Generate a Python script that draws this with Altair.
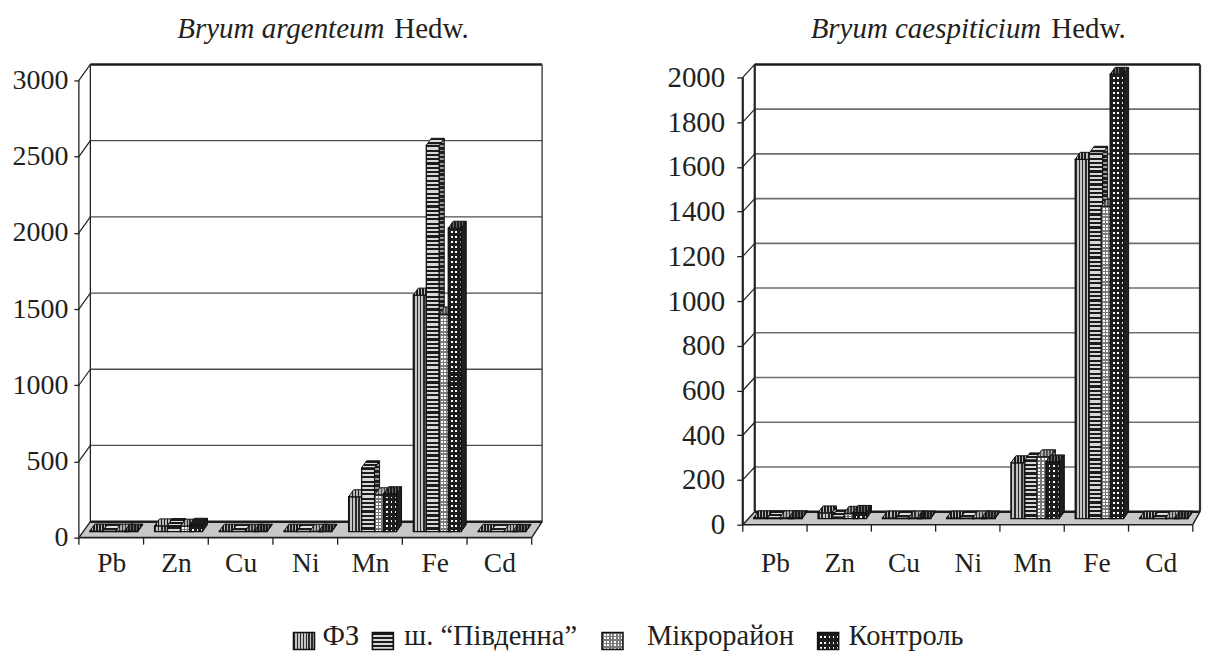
import altair as alt

CATS = ["Pb", "Zn", "Cu", "Ni", "Mn", "Fe", "Cd"]
SERIES = ["ФЗ", "ш. “Південна”", "Мікрорайон", "Контроль"]
A_FZ = [4, 38, 3, 3, 229, 1552, 2]
A_PIV = [4, 40, 3, 3, 419, 2535, 2]
A_MIK = [4, 36, 3, 3, 242, 1428, 2]
A_KON = [4, 42, 3, 3, 249, 1991, 2]
B_FZ = [4, 26, 3, 3, 250, 1607, 2]
B_PIV = [4, 8, 3, 3, 263, 1634, 2]
B_MIK = [4, 24, 3, 3, 277, 1397, 2]
B_KON = [4, 28, 3, 3, 254, 1987, 2]
A_TICKS = [0, 500, 1000, 1500, 2000, 2500, 3000]
B_TICKS = [0, 200, 400, 600, 800, 1000, 1200, 1400, 1600, 1800, 2000]

FONT = "Liberation Serif"
INK = "#231f20"
CLEAR = "rgba(0,0,0,0)"


def stripes(length, period, duty, dark, light, vertical):
    n = max(1, round(length / period))
    stops = []
    for i in range(n):
        a, b, c = i / n, (i + duty) / n, (i + 1) / n
        stops += [(dark, a), (dark, b), (light, b), (light, c)]
    return alt.LinearGradient(
        gradient="linear",
        stops=[alt.GradientStop(color=k, offset=o) for k, o in stops],
        x1=0, y1=0,
        x2=1 if vertical else 0,
        y2=0 if vertical else 1,
    )


def front_layers(i, w, h):
    """Fill list, bottom to top, for the front face of series i."""
    if i == 0:
        return ["#ffffff", stripes(w, 3.0, 0.45, "#2a2a2a", "#c4c4c4", True)]
    if i == 1:
        return ["#ffffff", stripes(h, 4.3, 0.5, "#1c1c1c", "#d8d8d8", False)]
    if i == 2:
        return ["#ffffff",
                stripes(h, 3.4, 0.45, "#7a7a7a", CLEAR, False),
                stripes(w, 3.4, 0.45, "#7a7a7a", CLEAR, True)]
    return ["#ffffff",
            stripes(h, 5.0, 0.62, "#1c1c1c", CLEAR, False),
            stripes(w, 4.4, 0.62, "#1c1c1c", CLEAR, True)]


def top_fill(i, w, flat):
    if i == 0:
        return stripes(w + 5, 3.0, 0.65 if flat else 0.5, "#1c1c1c", "#b8b8b8", True)
    if i == 1:
        return stripes(7, 3.5, 0.6, "#1c1c1c", "#dddddd", False)
    if i == 2:
        return stripes(w + 5, 3.0, 0.5, "#333333" if flat else "#555555", "#aaaaaa", True)
    return stripes(w + 5, 3.0, 0.7, "#1c1c1c", "#666666", True)


def side_fill(i, h):
    if i == 3:
        return "#1f1f1f"
    return stripes(h, 4.3, 0.6, "#1f1f1f", "#9a9a9a", False)


def panel(series, ticks, width, height, step, depth_x, depth_y, unit_px,
          offsets, bar_w, y_font, y_pad, tick_len, grid_color, grid_w, wall_w):
    xd = width / step
    ppu = unit_px
    ymax = ticks[-1] + depth_y / ppu
    xs = alt.Scale(domain=[0, xd], nice=False, zero=False)
    ys = alt.Scale(domain=[0, ymax], nice=False, zero=False)
    DX, DY = depth_x / step, depth_y / ppu
    x_axis = alt.Axis(
        values=[i + 0.5 for i in range(len(CATS))], title=None, grid=False, domain=False,
        ticks=False, labelFont=FONT, labelFontSize=27.5, labelColor=INK, labelAngle=0,
        labelPadding=551 - (65 + height), labelFlush=False,
        labelExpr="[" + ",".join(f"'{c}'" for c in CATS) + "][floor(datum.value)]")
    y_axis = alt.Axis(
        values=ticks, title=None, grid=False, domain=False, tickSize=tick_len, tickColor=INK,
        tickWidth=1.3, labelFont=FONT, labelFontSize=y_font, labelColor=INK, labelPadding=y_pad,
        format="d", minExtent=71, maxExtent=71)
    layers = []

    def enc(*fields):
        e = {}
        if "x" in fields:
            e["x"] = alt.X("x:Q", scale=xs, axis=x_axis)
        if "x2" in fields:
            e["x2"] = alt.X2("x2:Q")
        if "y" in fields:
            e["y"] = alt.Y("y:Q", scale=ys, axis=y_axis)
        if "y2" in fields:
            e["y2"] = alt.Y2("y2:Q")
        return e

    def mk(mark, rows, *fields):
        ch = alt.Chart(alt.Data(values=rows))
        ch.mark = mark
        return ch.encode(**enc(*fields))

    # grid lines on the back wall, with their diagonals on the side wall
    for t in ticks[1:]:
        top = t == ticks[-1]
        layers.append(mk(alt.MarkDef(type="rule", color="#1c1c1c" if top else grid_color,
                                     strokeWidth=2.4 if top else grid_w),
                         [{"x": DX, "x2": xd, "y": t + DY}], "x", "x2", "y"))
        layers.append(mk(alt.MarkDef(type="line", color=INK, strokeWidth=1.2),
                         [{"x": 0, "y": t}, {"x": DX, "y": t + DY}], "x", "y"))
    # walls
    layers.append(mk(alt.MarkDef(type="rule", color="#333333", strokeWidth=wall_w),
                     [{"x": xd, "y": DY, "y2": ymax}], "x", "y", "y2"))
    layers.append(mk(alt.MarkDef(type="rule", color="#222222", strokeWidth=wall_w),
                     [{"x": DX, "y": DY, "y2": ymax}], "x", "y", "y2"))
    layers.append(mk(alt.MarkDef(type="rule", color=INK, strokeWidth=wall_w),
                     [{"x": 0, "y": 0, "y2": ticks[-1]}], "x", "y", "y2"))
    # floor
    layers.append(mk(alt.MarkDef(type="area", orient="horizontal", fill="#c8c8c8"),
                     [{"x": 0, "x2": len(CATS), "y": 0},
                      {"x": DX, "x2": xd, "y": DY}], "x", "x2", "y"))
    layers.append(mk(alt.MarkDef(type="line", color=INK, strokeWidth=1.4),
                     [{"x": 0, "y": 0}, {"x": DX, "y": DY}], "x", "y"))
    layers.append(mk(alt.MarkDef(type="line", color=INK, strokeWidth=1.4),
                     [{"x": len(CATS), "y": 0}, {"x": xd, "y": DY}], "x", "y"))
    layers.append(mk(alt.MarkDef(type="rule", color="#1c1c1c", strokeWidth=2.4),
                     [{"x": DX, "x2": xd, "y": DY}], "x", "x2", "y"))
    layers.append(mk(alt.MarkDef(type="rule", color=INK, strokeWidth=1.6),
                     [{"x": 0, "x2": len(CATS), "y": 0}], "x", "x2", "y"))
    # x ticks below the floor
    for k in range(len(CATS) + 1):
        layers.append(alt.Chart(alt.Data(values=[{"x": k}])).mark_rule(color=INK, strokeWidth=1.3).encode(
            x=alt.X("x:Q", scale=xs, axis=x_axis),
            y=alt.value(height),
            y2=alt.value(height + 7)))

    # bars
    b0 = 6 / ppu
    dbx, dby = 5 / step, 7 / ppu
    for c in range(len(CATS)):
        for s, vals in enumerate(series):
            v = vals[c]
            x0 = c + (11 + offsets[s]) / step
            x1 = x0 + bar_w / step
            y0, y1 = b0, b0 + v
            h_px = v * ppu
            flat = h_px < 3
            fills = ["#333333"] if flat else front_layers(s, bar_w, h_px)
            face = [{"x": x0, "x2": x1, "y": y0, "y2": y1}]
            for f in fills:
                layers.append(mk(alt.MarkDef(type="rect", fill=f), face, "x", "x2", "y", "y2"))
            layers.append(mk(alt.MarkDef(type="rect", fill=CLEAR, stroke="#111111", strokeWidth=1.3),
                             face, "x", "x2", "y", "y2"))
            layers.append(mk(alt.MarkDef(type="area", orient="vertical",
                                         fill=side_fill(s, max(h_px, 8)), stroke="#111111", strokeWidth=1),
                             [{"x": x1, "y": y1, "y2": y0},
                              {"x": x1 + dbx, "y": y1 + dby, "y2": y0 + dby}],
                             "x", "y", "y2"))
            layers.append(mk(alt.MarkDef(type="area", orient="horizontal",
                                         fill=top_fill(s, bar_w, h_px < 12), stroke="#111111", strokeWidth=1),
                             [{"x": x0, "x2": x1, "y": y1},
                              {"x": x0 + dbx, "x2": x1 + dbx, "y": y1 + dby}],
                             "x", "x2", "y"))
    return layers


def title_layers(italic, rest, split_x):
    base = alt.Chart(alt.Data(values=[{"a": 1}]))
    return [
        base.mark_text(text=italic, font=FONT, fontStyle="italic", fontSize=29, color=INK,
                       align="right", baseline="alphabetic").encode(x=alt.value(split_x), y=alt.value(-26)),
        base.mark_text(text=rest, font=FONT, fontSize=29, color=INK,
                       align="left", baseline="alphabetic").encode(x=alt.value(split_x + 10), y=alt.value(-26)),
    ]


A_W, A_H = 464, 474
B_W, B_H = 458, 461
pa = panel([A_FZ, A_PIV, A_MIK, A_KON], A_TICKS, A_W, A_H, 64.8, 11.5, 16, 76.33 / 500,
           [0, 13, 26, 35], 13, 28, 6, 5, "#4d4d4d", 1.3, 1.3)
pb = panel([B_FZ, B_PIV, B_MIK, B_KON], B_TICKS, B_W, B_H, 64.4, 12, 13, 44.8 / 200,
           [0, 14, 26, 35], 13.5, 29, 12, 6, "#6e6e6e", 1.6, 2.2)
A = alt.layer(*pa, *title_layers("Bryum argenteum", "Hedw.", 306)).properties(width=A_W, height=A_H)
B = alt.layer(*pb, *title_layers("Bryum caespiticium", "Hedw.", 299)).properties(width=B_W, height=B_H)

# legend row
LEG_W, LEG_H = 900, 22
SW_X = [215, 294, 524, 740]
TEXT_X = [244, 326, 569, 771]
leg = []
one = alt.Data(values=[{"a": 1}])
for i, name in enumerate(SERIES):
    for f in front_layers(i, 21, 17):
        leg.append(alt.Chart(one).mark_rect(fill=f).encode(
            x=alt.value(SW_X[i]), x2=alt.value(SW_X[i] + 21), y=alt.value(4), y2=alt.value(21)))
    leg.append(alt.Chart(one).mark_rect(fill=CLEAR, stroke="#111111", strokeWidth=1.6).encode(
        x=alt.value(SW_X[i]), x2=alt.value(SW_X[i] + 21), y=alt.value(4), y2=alt.value(21)))
    leg.append(alt.Chart(one).mark_text(
        text=name, font=FONT, fontSize=28.5, color=INK, align="left", baseline="alphabetic").encode(
        x=alt.value(TEXT_X[i]), y=alt.value(17)))
L = alt.layer(*leg).properties(width=LEG_W, height=LEG_H)

chart = alt.vconcat(
    alt.hconcat(A, B, spacing=122), L, spacing=45
).properties(padding={"left": 0, "top": 7, "right": 0, "bottom": 0}, background="white").configure_view(stroke=None)

chart.save("out.html", embed_options={"renderer": "svg", "actions": False})
